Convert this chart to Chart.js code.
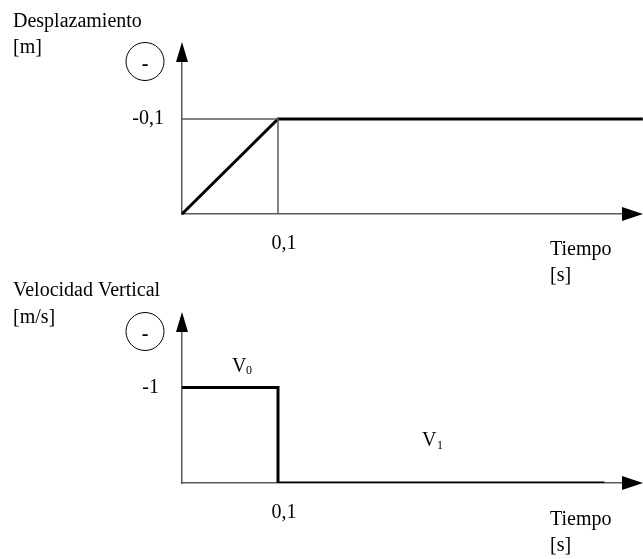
<!DOCTYPE html>
<html>
<head>
<meta charset="utf-8">
<script src="https://cdn.jsdelivr.net/npm/chart.js@4.4.0/dist/chart.umd.min.js"></script>
<style>
  html, body { margin: 0; padding: 0; background: #fff; }
  #wrap { position: relative; width: 643px; height: 559px; }
  canvas { display: block; position: absolute; left: 0; }
  #chartDesp { top: 0; }
  #chartVel { top: 280px; }
</style>
</head>
<body>
<div id="wrap">
<canvas id="chartDesp" width="643" height="300"></canvas>
<canvas id="chartVel" width="643" height="279"></canvas>
</div>
<script>
// desplazamiento (m) vs tiempo (s)
const tiempoDesp = [0, 0.1, 0.48];
const desplazamiento = [0, -0.1, -0.1];
const guiaTiempo = [0, 0.1, 0.1];
const guiaDesp = [-0.1, -0.1, 0];

// velocidad vertical (m/s) vs tiempo (s)
const tiempoVel = [0, 0.1, 0.1, 0.44];
const velocidad = [-1, -1, 0, 0];

const marcasTiempo = [0.1];
const marcasDesp = [-0.1];
const marcasVel = [-1];

const FUENTE = 'Liberation Serif, Times New Roman, serif';
const GRIS = '#5a5a5a';

const puntos = (xs, ys) => xs.map((x, i) => ({ x, y: ys[i] }));
const coma = v => String(v).replace('.', ',');

const decor = {
  id: 'decor',
  afterDraw(chart, args, opts) {
    const { ctx, chartArea: a } = chart;
    ctx.save();
    ctx.fillStyle = '#000';
    // flecha eje y
    ctx.beginPath();
    ctx.moveTo(a.left, a.top - 20);
    ctx.lineTo(a.left - 6, a.top);
    ctx.lineTo(a.left + 6, a.top);
    ctx.closePath();
    ctx.fill();
    // flecha eje x
    ctx.beginPath();
    ctx.moveTo(a.right + 21, a.bottom);
    ctx.lineTo(a.right, a.bottom - 7);
    ctx.lineTo(a.right, a.bottom + 7);
    ctx.closePath();
    ctx.fill();
    // circulo con signo
    ctx.strokeStyle = '#000';
    ctx.lineWidth = 1;
    ctx.beginPath();
    ctx.arc(a.left - 37, a.top - 0.5, 19, 0, Math.PI * 2);
    ctx.stroke();
    ctx.font = 'bold 20px ' + FUENTE;
    ctx.textAlign = 'center';
    ctx.textBaseline = 'alphabetic';
    ctx.fillText('-', a.left - 37, a.top + 8);
    // textos
    ctx.textAlign = 'left';
    opts.textos.forEach(t => {
      ctx.font = t[3] + 'px ' + FUENTE;
      ctx.fillText(t[0], t[1], t[2]);
    });
    ctx.restore();
  }
};

function crearGrafico(id, cfg) {
  return new Chart(document.getElementById(id), {
    type: 'line',
    data: { datasets: cfg.datasets },
    options: {
      responsive: false,
      animation: false,
      devicePixelRatio: 1,
      layout: { padding: { top: cfg.top, right: 21, left: 0, bottom: 0 } },
      elements: { point: { radius: 0 }, line: { tension: 0 } },
      plugins: {
        legend: { display: false },
        tooltip: { enabled: false },
        decor: { textos: cfg.textos }
      },
      scales: {
        x: {
          type: 'linear',
          min: 0,
          max: 0.4583,
          grid: { display: false, drawTicks: false },
          border: { color: GRIS, width: 1.5 },
          ticks: {
            color: '#000', padding: 18, labelOffset: 6,
            font: { family: FUENTE, size: 20 }, callback: coma
          },
          afterBuildTicks: s => { s.ticks = marcasTiempo.map(v => ({ value: v })); },
          afterFit: s => { s.height = cfg.xAlto; }
        },
        y: {
          type: 'linear',
          reverse: true,
          min: cfg.yMin,
          max: 0,
          grid: { display: false, drawTicks: false },
          border: { color: GRIS, width: 1.5 },
          ticks: {
            color: '#000', padding: cfg.yPad,
            font: { family: FUENTE, size: 20 }, callback: coma
          },
          afterBuildTicks: s => { s.ticks = cfg.marcasY.map(v => ({ value: v })); },
          afterFit: s => { s.width = 182; }
        }
      }
    },
    plugins: [decor]
  });
}

crearGrafico('chartDesp', {
  top: 62,
  xAlto: 86,
  yMin: -0.16,
  yPad: 18,
  marcasY: marcasDesp,
  datasets: [
    { data: puntos(guiaTiempo, guiaDesp), borderColor: GRIS, borderWidth: 1.5 },
    { data: puntos(tiempoDesp, desplazamiento), borderColor: '#000', borderWidth: 3, clip: false }
  ],
  textos: [
    ['Desplazamiento', 13, 27, 20],
    ['[m]', 13, 53, 20],
    ['Tiempo', 550, 255, 20],
    ['[s]', 550, 281, 20]
  ]
});

crearGrafico('chartVel', {
  top: 52,
  xAlto: 76,
  yMin: -1.58,
  yPad: 23,
  marcasY: marcasVel,
  datasets: [
    { data: puntos(tiempoVel, velocidad), borderColor: '#000', borderWidth: 3, borderCapStyle: 'butt' }
  ],
  textos: [
    ['Velocidad Vertical', 13, 16, 20],
    ['[m/s]', 13, 43, 20],
    ['V', 232, 92, 20],
    ['0', 246, 94, 12],
    ['V', 422, 166, 20],
    ['1', 437, 169, 12],
    ['Tiempo', 550, 245, 20],
    ['[s]', 550, 271, 20]
  ]
});
</script>
</body>
</html>
